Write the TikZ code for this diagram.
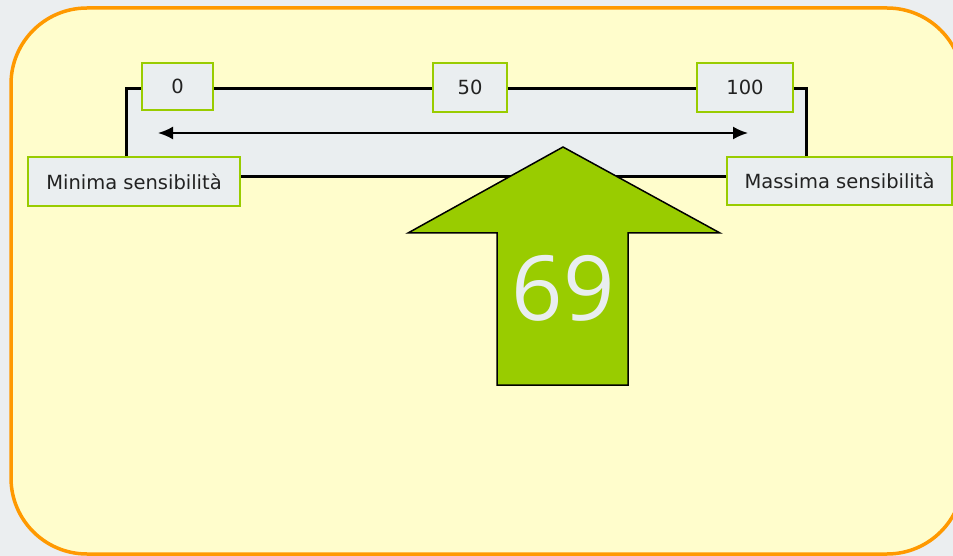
\documentclass[tikz,border=0pt]{standalone}
\usepackage{fontspec}
\setmainfont{DejaVu Sans}
\newfontfamily\bigfont{Open Sans}
\usetikzlibrary{arrows.meta}
\definecolor{pagebg}{HTML}{EBEEF0}
\definecolor{panelfill}{HTML}{FFFDCC}
\definecolor{panelline}{HTML}{FF9900}
\definecolor{greenc}{HTML}{99CC00}
\definecolor{boxfill}{HTML}{EAEEF0}
\definecolor{textc}{HTML}{222222}
\definecolor{bignum}{HTML}{E9EEF0}
\tikzset{
  labelbox/.style={draw=greenc, line width=2.8pt, fill=boxfill, inner sep=0pt,
    text=textc, font=\fontsize{19.5}{21}\selectfont},
  scalebox/.style={draw=black, line width=3pt, fill=boxfill, inner sep=0pt},
  bigarrow/.style={draw=black, line width=1.5pt, fill=greenc, line join=miter},
  rangearrow/.style={draw=black, line width=2pt, {Latex[length=15pt,width=13pt]}-{Latex[length=15pt,width=13pt]}},
  panelborder/.style={draw=panelline, line width=3.5pt, rounded corners=76pt},
}
\begin{document}
\begin{tikzpicture}[x=1pt,y=-1pt]
\useasboundingbox (0,0) rectangle (953,556);
\clip (0,0) rectangle (953,556);
\fill[pagebg] (0,0) rectangle (953,556);
\fill[panelfill, rounded corners=76pt] (11,8) rectangle (963,554);
\draw[panelborder] (963,84) -- (963,8) -- (11,8) -- (11,554) -- (963,554) -- (963,478);
% scale box
\node[scalebox, minimum width=680pt, minimum height=88pt] (scale) at (466,133) {};
\coordinate (aleft) at (158,133);
\coordinate (aright) at (748,133);
\draw[rangearrow] (aleft) -- (aright);
% big arrow
\draw[bigarrow] (497,385) -- (497,233) -- (408,233) -- (563,147) -- (720,233) -- (628,233) -- (628,385) -- cycle;
\node[inner sep=0pt, text=bignum, font=\bigfont\fontsize{90}{94}\selectfont] (value) at (563,288) {69};
% labels
\node[labelbox, minimum width=71pt, minimum height=47pt] (l0) at (177.5,86.5) {0};
\node[labelbox, minimum width=74pt, minimum height=49pt] (l50) at (470,87.5) {50};
\node[labelbox, minimum width=96pt, minimum height=49pt] (l100) at (745,87.5) {100};
\node[labelbox, minimum width=212pt, minimum height=49pt] (lmin) at (134,181.5) {Minima sensibilità};
\node[labelbox, minimum width=225pt, minimum height=48pt] (lmax) at (839.5,181) {Massima sensibilità};
\end{tikzpicture}
\end{document}
